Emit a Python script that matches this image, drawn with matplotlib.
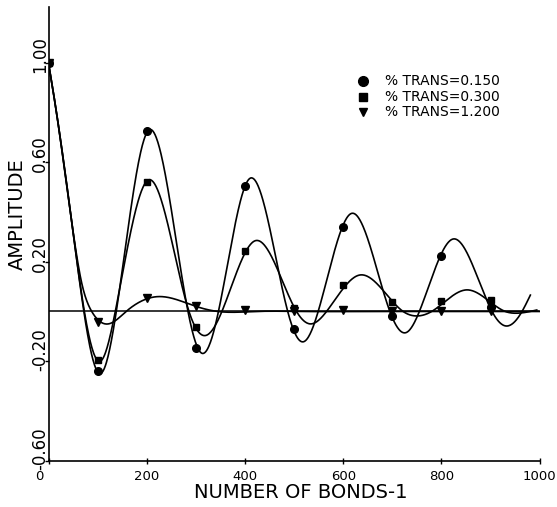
import numpy as np
import matplotlib
matplotlib.use("Agg")
import matplotlib.pyplot as plt
from matplotlib.transforms import ScaledTranslation, blended_transform_factory

# ---- sampled amplitudes (every 100 bonds) ----
bonds = [0, 100, 200, 300, 400, 500, 600, 700, 800, 900]
amp_015 = [1.0, -0.24, 0.725, -0.148, 0.507, -0.070, 0.342, -0.018, 0.225, 0.02]
amp_030 = [1.0, -0.195, 0.520, -0.061, 0.244, 0.013, 0.107, 0.040, 0.044, 0.046]
amp_120 = [1.0, -0.041, 0.053, 0.022, 0.005, 0.0, 0.005, 0.0, 0.0, 0.0]

# ---- knots of the smooth fitted curves (extrema and zero crossings) ----
fit015_x = [0, 14, 48, 72, 106, 138, 204, 284, 312, 346, 410, 487, 519, 549,
            617, 695, 728, 755, 824, 903, 930, 964, 981]
fit015_y = [1.0, 0.83, 0.35, 0.0, -0.25, 0.0, 0.73, 0.0, -0.168, 0.0, 0.536, 0.0,
            -0.122, 0.0, 0.395, 0.0, -0.085, 0.0, 0.292, 0.0, -0.058, 0.0, 0.066]

fit030_x = [0, 14, 48, 73, 106, 136, 204, 286, 319, 353, 421, 505, 533, 566,
            634, 722, 750, 780, 852, 930, 953, 994]
fit030_y = [1.0, 0.83, 0.35, 0.0, -0.20, 0.0, 0.53, 0.0, -0.097, 0.0, 0.285, 0.0,
            -0.050, 0.0, 0.147, 0.0, -0.018, 0.0, 0.087, 0.0, -0.007, 0.006]

fit120_x = [0, 14, 48, 67, 88, 122, 158, 224, 298, 345, 420, 520, 640, 760, 880, 1000]
fit120_y = [1.0, 0.83, 0.35, 0.12, 0.0, -0.050, 0.0, 0.060, 0.022, 0.0, 0.0, 0.0,
            0.0, 0.0, 0.0, 0.0]

legend_labels = ["% TRANS=0.150", "% TRANS=0.300", "% TRANS=1.200"]
xtick_vals = [0, 200, 400, 600, 800, 1000]
ytick_vals = [1.00, 0.60, 0.20, -0.20, -0.60]


def natural_spline(xk, yk, xs):
    """Natural cubic spline through the knots, evaluated at xs."""
    xk = np.asarray(xk, float)
    yk = np.asarray(yk, float)
    n = len(xk)
    h = np.diff(xk)
    A = np.zeros((n, n))
    r = np.zeros(n)
    A[0, 0] = A[-1, -1] = 1.0
    for i in range(1, n - 1):
        A[i, i - 1] = h[i - 1]
        A[i, i] = 2 * (h[i - 1] + h[i])
        A[i, i + 1] = h[i]
        r[i] = 6 * ((yk[i + 1] - yk[i]) / h[i] - (yk[i] - yk[i - 1]) / h[i - 1])
    M = np.linalg.solve(A, r)
    idx = np.clip(np.searchsorted(xk, xs) - 1, 0, n - 2)
    x0, x1 = xk[idx], xk[idx + 1]
    hh = h[idx]
    a = (x1 - xs) / hh
    b = (xs - x0) / hh
    return (a * yk[idx] + b * yk[idx + 1]
            + ((a**3 - a) * M[idx] + (b**3 - b) * M[idx + 1]) * hh**2 / 6)


W, H, DPI = 557, 507, 100
fig = plt.figure(figsize=(W / DPI, H / DPI), dpi=DPI)
ax_l, ax_r, ax_t, ax_b = 48.5, 539.7, 7.0, 460.5
ax = fig.add_axes([ax_l / W, (H - ax_b) / H, (ax_r - ax_l) / W, (ax_b - ax_t) / H])
ax.set_xlim(0, 1000)
ax.set_ylim(-0.6, 1.226)

for side in ("top", "right"):
    ax.spines[side].set_visible(False)
for side in ("left", "bottom"):
    ax.spines[side].set_linewidth(1.2)

# zero reference line
ax.plot([0, 998], [0, 0], color="black", lw=1.1, zorder=2)

line_kw = dict(color="black", lw=1.2, zorder=3)
for fx, fy in ((fit015_x, fit015_y), (fit030_x, fit030_y), (fit120_x, fit120_y)):
    xs = np.linspace(fx[0], fx[-1], 900)
    ax.plot(xs, natural_spline(fx, fy, xs), **line_kw)

ax.plot(bonds, amp_015, linestyle="none", marker="o", ms=5.5, color="black", zorder=4)
ax.plot(bonds, amp_030, linestyle="none", marker="s", ms=5.0, color="black", zorder=4)
ax.plot(bonds, amp_120, linestyle="none", marker="v", ms=5.5, color="black", zorder=4)

# ticks
ax.set_xticks(xtick_vals)
ax.set_xticklabels([])
ax.set_yticks(ytick_vals)
ax.set_yticklabels([])
ax.tick_params(axis="x", direction="inout", length=5, width=1.0)
ax.tick_params(axis="y", direction="out", length=3, width=1.0)

px = lambda v: v / DPI

# x tick labels
xtr = blended_transform_factory(ax.transData, ax.transAxes)
for v in xtick_vals:
    dx = -9 if v == 0 else 0
    ax.text(v, 0, f"{v}", fontsize=9.5, ha="center", va="top",
            transform=xtr + ScaledTranslation(px(dx), px(-9), fig.dpi_scale_trans))

# y tick labels, rotated
ytr = blended_transform_factory(ax.transAxes, ax.transData)
for v in ytick_vals:
    ax.text(0, v, f"{v:.2f}", fontsize=12, rotation=90, rotation_mode="anchor",
            ha="left", va="baseline",
            transform=ytr + ScaledTranslation(px(-3.5), px(-10), fig.dpi_scale_trans))

fig.text(17 / W, (H - 214) / H, "AMPLITUDE", rotation=90, fontsize=14,
         ha="center", va="center")
fig.text(301 / W, (H - 492) / H, "NUMBER OF BONDS-1", fontsize=14,
         ha="center", va="center")

# legend
def to_axes(xp, yp):
    return (xp - ax_l) / (ax_r - ax_l), (ax_b - yp) / (ax_b - ax_t)

for (mk, ms), yp, lab in zip([("o", 7), ("s", 5.8), ("v", 6)], [81, 97, 112], legend_labels):
    mx, my = to_axes(363, yp)
    ax.plot([mx], [my], marker=mk, ms=ms, color="black", linestyle="none",
            transform=ax.transAxes, clip_on=False)
    tx, ty = to_axes(385, yp)
    ax.text(tx, ty, lab, fontsize=10, ha="left", va="center", transform=ax.transAxes)

fig.savefig("out.png", dpi=DPI)
